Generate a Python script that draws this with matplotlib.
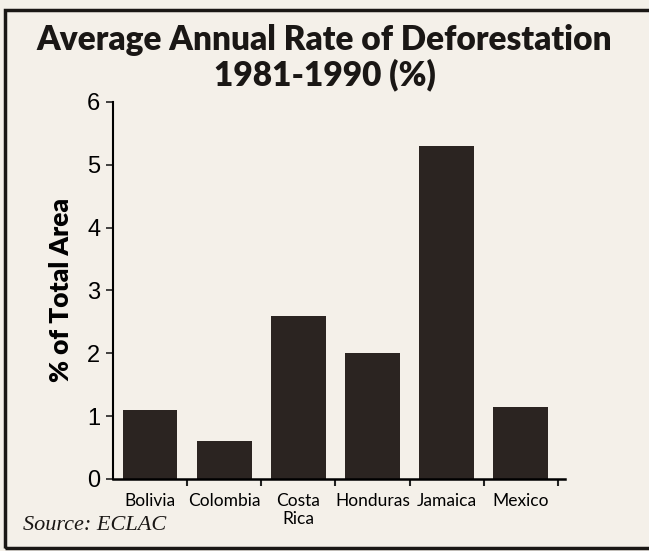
import numpy as np
import matplotlib.pyplot as plt
from matplotlib.patches import Rectangle

countries = ["Bolivia", "Colombia", "Costa\nRica", "Honduras", "Jamaica", "Mexico"]
rates = [1.1, 0.6, 2.6, 2.0, 5.3, 1.15]
yticks = [0, 1, 2, 3, 4, 5, 6]

bg = "#f4f0e9"
bar_col = "#2b2421"

fig = plt.figure(figsize=(6.49, 5.51), dpi=100, facecolor=bg)
ax = fig.add_axes([0.174, 0.131, 0.697, 0.684])
ax.set_facecolor(bg)

x = np.arange(len(countries))
ax.bar(x, rates, width=0.74, color=bar_col)

ax.set_xlim(-0.5, 5.6)
ax.set_ylim(0, 6)
ax.set_yticks(yticks)
ax.set_yticklabels([str(t) for t in yticks], fontsize=17, family="Liberation Sans")
ax.set_xticks(x + 0.5)
ax.set_xticklabels([])
ax.set_xticks(x, minor=True)
ax.set_xticklabels(countries, minor=True, fontsize=12.5, family="Lato", linespacing=1.15)
ax.tick_params(axis="x", which="minor", length=0, pad=10)
ax.tick_params(axis="x", which="major", length=5, width=1.5, color="#222")
ax.tick_params(axis="y", length=5, width=1.2, color="#222", pad=4)

for s in ["top", "right"]:
    ax.spines[s].set_visible(False)
ax.spines["left"].set_linewidth(1.5)
ax.spines["bottom"].set_linewidth(1.8)

ax.set_ylabel("% of Total Area", fontsize=19, fontweight="heavy", family="Lato")
ax.yaxis.set_label_coords(-0.088, 0.5)

fig.text(0.5, 0.927, "Average Annual Rate of Deforestation", ha="center", va="center",
         fontsize=24, fontweight="heavy", family="Lato", color="#1a1715")
fig.text(0.5, 0.864, "1981-1990 (%)", ha="center", va="center",
         fontsize=24, fontweight="heavy", family="Lato", color="#1a1715")
fig.text(0.035, 0.047, "Source: ECLAC", ha="left", va="center",
         fontsize=16, style="italic", family="Liberation Serif", color="#1a1715")

# frame around the figure
fig.patches.append(Rectangle((0.008, 0.006), 1.1, 0.976, transform=fig.transFigure,
                             fill=False, edgecolor="#1a1715", linewidth=2.5))

fig.savefig("out.png", dpi=100, facecolor=bg)
